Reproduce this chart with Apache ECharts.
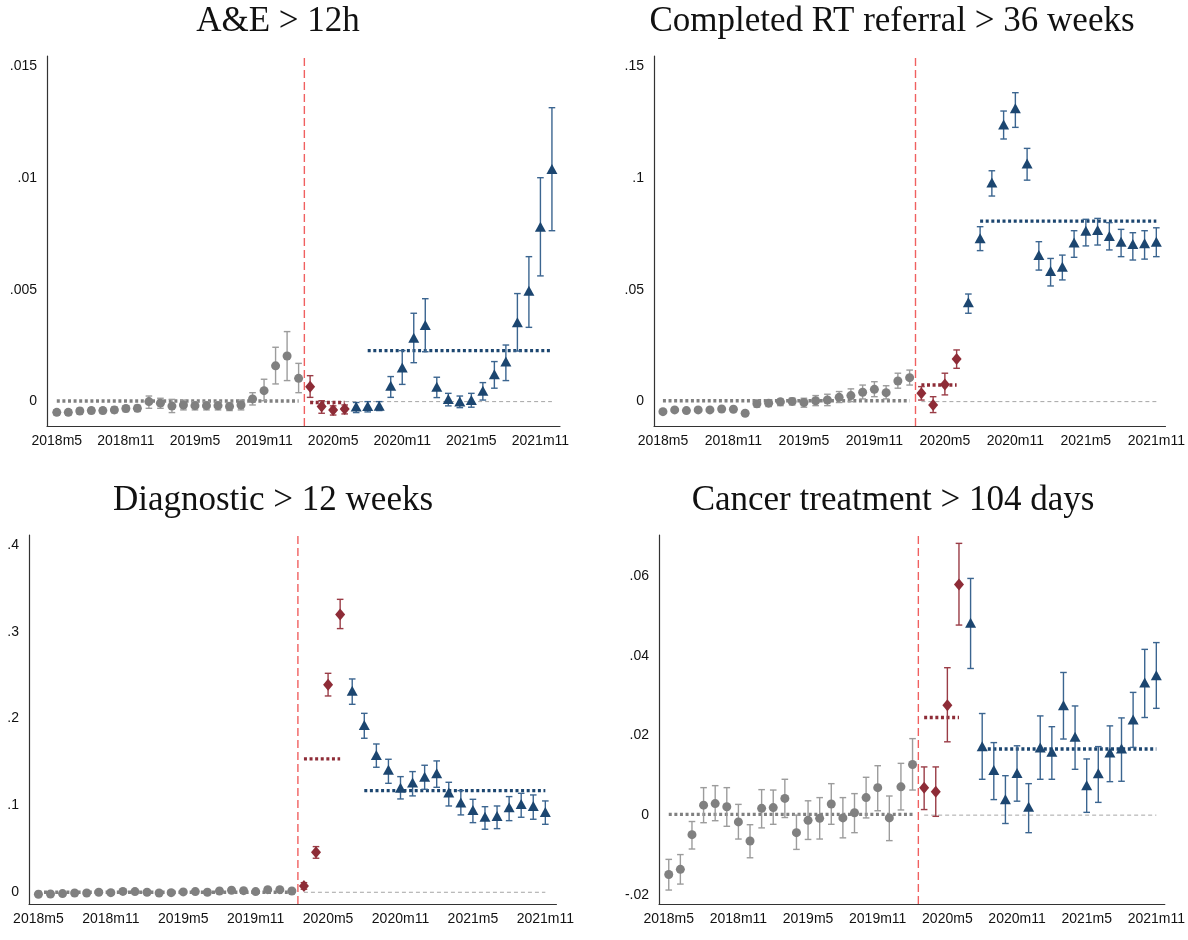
<!DOCTYPE html>
<html>
<head>
<meta charset="utf-8">
<script src="https://cdn.jsdelivr.net/npm/echarts@6/dist/echarts.min.js"></script>
<style>
html,body{margin:0;padding:0;background:#fff;width:1188px;height:940px;overflow:hidden;}
.p{position:absolute;overflow:hidden;}
</style>
</head>
<body>
<div id="p1" class="p" style="left:0;top:0;width:594px;height:479px;"></div>
<div id="p2" class="p" style="left:594px;top:0;width:594px;height:479px;"></div>
<div id="p3" class="p" style="left:0;top:479px;width:577px;height:461px;"></div>
<div id="p4" class="p" style="left:594px;top:479px;width:594px;height:461px;"></div>
<script>
// x tick labels (month index 0 = 2018m5)
const xTickIdx = [0, 6, 12, 18, 24, 30, 36, 42];
const xTickLabels = ['2018m5','2018m11','2019m5','2019m11','2020m5','2020m11','2021m5','2021m11'];
const preCount = 22;     // 2018m5 .. 2020m2 (grey)
const covidCount = 4;    // 2020m3 .. 2020m6 (red)
const breakAt = 21.5;    // vertical dashed line between 2020m2 and 2020m3
const postMeanStart = 27;

const titles = ['A&E > 12h', 'Completed RT referral > 36 weeks', 'Diagnostic > 12 weeks', 'Cancer treatment > 104 days'];

// Panel 1: A&E > 12h (2018m5 .. 2021m12)
const aeEst = [-0.00048,-0.00048,-0.00042,-0.0004,-0.0004,-0.00037,-0.00031,-0.0003,0.0,-0.00007,-0.0002,-0.00015,-0.00018,-0.00018,-0.00018,-0.00022,-0.00015,0.00012,0.00049,0.0016,0.00204,0.00104,
  0.00067,-0.00022,-0.00037,-0.00033,
  -0.00022,-0.0002,-0.00018,0.00071,0.00152,0.00286,0.00343,0.00067,0.00012,0.0,0.00007,0.00049,0.00122,0.00179,0.00355,0.00496,0.00782,0.0104];
const aeLo = [-0.0006,-0.0006,-0.00055,-0.00053,-0.00053,-0.0005,-0.00045,-0.00044,-0.0003,-0.0003,-0.00049,-0.00037,-0.00037,-0.00037,-0.00037,-0.0004,-0.00037,-0.00015,0.00004,0.00079,0.00094,0.0004,
  0.00019,-0.00052,-0.0006,-0.00055,
  -0.00049,-0.00046,-0.0004,0.00019,0.00077,0.00174,0.00223,0.00018,-0.00019,-0.00027,-0.00025,0.00007,0.0006,0.00094,0.00226,0.00332,0.00562,0.00764];
const aeHi = [-0.00036,-0.00036,-0.0003,-0.00028,-0.00028,-0.00024,-0.00018,-0.00016,0.00025,0.00015,0.0001,0.00007,0,0,0,-0.00004,0.00007,0.0004,0.001,0.00243,0.00313,0.00171,
  0.00116,0.00004,-0.00019,-0.00015,
  -0.00004,0,0,0.00112,0.00228,0.00395,0.0046,0.00109,0.00037,0.00025,0.00037,0.00085,0.00179,0.00253,0.00483,0.00648,0.01001,0.01314];
const aeMeans = [0.00003, -0.00004, 0.00228];
const aeTicks = [0, 0.005, 0.01, 0.015];

// Panel 2: Completed RT referral > 36 weeks (2018m5 .. 2021m11)
const rtEst = [-0.0045,-0.0037,-0.004,-0.0037,-0.0037,-0.0033,-0.0034,-0.0052,-0.001,-0.0007,-0.0001,0.0001,-0.0004,0.0004,0.0007,0.0019,0.0027,0.0042,0.0055,0.004,0.0092,0.0107,
  0.0037,-0.0015,0.0077,0.0191,
  0.0444,0.073,0.0979,0.1239,0.1311,0.1065,0.0655,0.0584,0.0603,0.0711,0.0764,0.0767,0.074,0.0715,0.0705,0.0708,0.0715];
const rtLo = [-0.0052,-0.0044,-0.0047,-0.0044,-0.0044,-0.004,-0.0041,-0.006,-0.0025,-0.0022,-0.0018,-0.0015,-0.0025,-0.0018,-0.0018,-0.0004,0,0.0012,0.0022,0.0012,0.006,0.0074,
  0.0007,-0.0049,0.003,0.0149,
  0.0395,0.0675,0.0919,0.1174,0.1226,0.099,0.0588,0.0517,0.0544,0.0645,0.0696,0.07,0.0678,0.0648,0.0633,0.0637,0.0648];
const rtHi = [-0.0038,-0.003,-0.0033,-0.003,-0.003,-0.0026,-0.0027,-0.0044,0.00045,0.0007,0.0012,0.0016,0.0015,0.0027,0.0033,0.0045,0.0057,0.0074,0.0089,0.0071,0.0127,0.0141,
  0.0067,0.0022,0.0127,0.0231,
  0.0481,0.0782,0.1032,0.1299,0.1381,0.1132,0.0715,0.064,0.0655,0.0764,0.0815,0.0819,0.08,0.077,0.0755,0.0764,0.0777];
const rtMeans = [0.0004, 0.0074, 0.0807];
const rtTicks = [0, 0.05, 0.1, 0.15];

// Panel 3: Diagnostic > 12 weeks
const dgEst = [-0.0023,-0.002,-0.0015,-0.0008,-0.0008,0,-0.0004,0.001,0.0008,0,-0.0008,-0.0004,0.0004,0.0008,0,0.0015,0.0023,0.0019,0.0008,0.003,0.003,0.0015,
  0.0073,0.046,0.239,0.32,
  0.232,0.1927,0.158,0.141,0.1205,0.1263,0.1332,0.137,0.1148,0.1033,0.0948,0.0871,0.0879,0.0979,0.1017,0.0994,0.0925];
const dgLo = [-0.0038,-0.0035,-0.003,-0.0023,-0.0023,-0.0015,-0.0019,-0.0005,-0.0007,-0.0015,-0.0023,-0.0019,-0.0011,-0.0007,-0.0015,0,0.0008,0.0004,-0.0007,0.0012,0.0012,0,
  0.0035,0.0392,0.2261,0.3037,
  0.2165,0.1774,0.144,0.1255,0.1075,0.111,0.1186,0.1209,0.0994,0.0891,0.0802,0.0726,0.0733,0.0825,0.0864,0.0841,0.0783];
const dgHi = [-0.0008,-0.0005,0,0.0007,0.0007,0.0015,0.0011,0.0025,0.0023,0.0015,0.0007,0.0011,0.0019,0.0023,0.0015,0.003,0.0038,0.0034,0.0023,0.0048,0.0048,0.003,
  0.0111,0.0526,0.2522,0.3374,
  0.2457,0.2061,0.1708,0.1532,0.1332,0.139,0.1463,0.1513,0.1267,0.1171,0.1071,0.0986,0.0994,0.1102,0.114,0.1121,0.1052];
const dgMeans = [0.0, 0.1536, 0.1171];
const dgTicks = [0, 0.1, 0.2, 0.3, 0.4];

// Panel 4: Cancer treatment > 104 days
const caEst = [-0.0149,-0.0136,-0.0049,0.0025,0.0029,0.0021,-0.0017,-0.0065,0.0017,0.0019,0.0042,-0.0044,-0.0013,-0.0008,0.0028,-0.0007,0.0006,0.0044,0.0069,-0.0007,0.0071,0.0127,
  0.0069,0.0059,0.0276,0.0579,
  0.0483,0.0173,0.0113,0.004,0.0106,0.0021,0.017,0.0159,0.0276,0.0197,0.0075,0.0105,0.0157,0.0167,0.024,0.0333,0.0351];
const caLo = [-0.0188,-0.0173,-0.0085,-0.0019,-0.0014,-0.0028,-0.006,-0.0107,-0.0032,-0.0023,-0.0006,-0.0086,-0.0061,-0.006,-0.0023,-0.0057,-0.0044,-0.0007,0.0011,-0.0064,0.0013,0.0063,
  0.0014,-0.0003,0.0184,0.0477,
  0.0368,0.009,0.0039,-0.0021,0.0035,-0.0044,0.009,0.009,0.0191,0.0115,0.0007,0.0032,0.0084,0.0085,0.017,0.0245,0.0268];
const caHi = [-0.0111,-0.0099,-0.0016,0.0069,0.0074,0.0069,0.0027,-0.0024,0.0064,0.0063,0.009,0,0.0036,0.0044,0.0079,0.0044,0.0054,0.0095,0.0124,0.0048,0.013,0.0192,
  0.0121,0.0121,0.037,0.0682,
  0.0594,0.0255,0.0182,0.0099,0.0174,0.0079,0.0249,0.0222,0.0358,0.0274,0.0141,0.0172,0.0224,0.0244,0.0308,0.0416,0.0433];
const caMeans = [0.0002, 0.0245, 0.0166];
const caTicks = [-0.02, 0, 0.02, 0.04, 0.06];

const GREY = '#808080', GREY_BAR = '#9c9c9c';
const RED = '#8e2c37', RED_BAR = '#9a3c46';
const BLUE = '#1c4670', BLUE_BAR = '#3b6590';
const VLINE = '#f06060';

function fmtY(v){ if (Math.abs(v) < 1e-12) return '0'; return String(+v.toFixed(4)).replace('0.', '.'); }
function fmtX(v){ const i = xTickIdx.indexOf(Math.round(v)); return i >= 0 ? xTickLabels[i] : ''; }

function errBar(color){
  return function(params, api){
    const x = api.value(0), lo = api.value(1), hi = api.value(2);
    const a = api.coord([x, lo]), b = api.coord([x, hi]);
    const w = 3.3;
    const st = {stroke: color, lineWidth: 1.4};
    return {type:'group', children:[
      {type:'line', shape:{x1:a[0],y1:a[1],x2:b[0],y2:b[1]}, style:st},
      {type:'line', shape:{x1:a[0]-w,y1:a[1],x2:a[0]+w,y2:a[1]}, style:st},
      {type:'line', shape:{x1:b[0]-w,y1:b[1],x2:b[0]+w,y2:b[1]}, style:st}
    ]};
  };
}

function makePanel(elId, cfg){
  const chart = echarts.init(document.getElementById(elId), null, {renderer:'canvas'});
  const n = cfg.est.length;
  const groups = [
    {from:0, to:preCount, color:GREY, bar:GREY_BAR, sym:'circle', size:9},
    {from:preCount, to:preCount+covidCount, color:RED, bar:RED_BAR, sym:'diamond', size:[10,12]},
    {from:preCount+covidCount, to:n, color:BLUE, bar:BLUE_BAR, sym:'triangle', size:[11,10]}
  ];
  const series = [];
  // zero reference line after the break
  series.push({type:'line', data:[[preCount,0],[n-1,0]], showSymbol:false, silent:true, z:1,
    lineStyle:{color:'#a6a6a6', width:1, type:[4,3]}});
  // vertical break line
  series.push({type:'line', data:[[breakAt,cfg.yMin],[breakAt,cfg.yMax]], showSymbol:false, silent:true, z:1,
    lineStyle:{color:VLINE, width:1.4, type:[8,4]}});
  groups.forEach((g, gi) => {
    const pts = [], bars = [];
    for (let i = g.from; i < g.to; i++){ pts.push([i, cfg.est[i]]); bars.push([i, cfg.lo[i], cfg.hi[i]]); }
    const mFrom = gi === 2 ? postMeanStart : g.from;
    const mTo = gi === 2 ? n-1 : g.to-1;
    series.push({type:'line', data:[[mFrom, cfg.means[gi]],[mTo, cfg.means[gi]]], showSymbol:false, silent:true, z:2,
      lineStyle:{color:g.color, width:3.4, type:[3,2.6]}});
    series.push({type:'custom', renderItem:errBar(g.bar), data:bars, z:3, silent:true,
      encode:{x:0, y:[1,2]}});
    series.push({type:'scatter', data:pts, symbol:g.sym, symbolSize:g.size, z:4, silent:true,
      itemStyle:{color:g.color, opacity:1}});
  });
  chart.setOption({
    animation:false,
    graphic:[{type:'text', x:cfg.titleX, y:cfg.titleY,
      style:{text:cfg.title, fill:'#111', font:'35px "Liberation Serif", serif', align:'center', verticalAlign:'middle'}}],
    grid:{left:cfg.grid[0], top:cfg.grid[1], width:cfg.grid[2], height:cfg.grid[3], containLabel:false},
    xAxis:{type:'value', min:cfg.xMin, max:cfg.xMax, splitLine:{show:false},
      axisLine:{onZero:false, lineStyle:{color:'#333', width:1.2}}, axisTick:{show:false},
      axisLabel:{customValues:xTickIdx, formatter:fmtX, color:'#111', fontSize:14, fontFamily:'"Liberation Sans", Arial, sans-serif', margin:8, showMinLabel:true, showMaxLabel:true}},
    yAxis:{type:'value', min:cfg.yMin, max:cfg.yMax, splitLine:{show:false},
      axisLine:{show:true, onZero:false, lineStyle:{color:'#333', width:1.2}}, axisTick:{show:false},
      axisLabel:{customValues:cfg.ticks, formatter:fmtY, color:'#111', fontSize:14, fontFamily:'"Liberation Sans", Arial, sans-serif', margin:10}},
    series:series
  });
}

makePanel('p1', {title:titles[0], titleX:278, titleY:22, grid:[47,56,513,370],
  xMin:-0.85, xMax:43.7, yMin:-0.00109, yMax:0.01545, ticks:aeTicks,
  est:aeEst, lo:aeLo, hi:aeHi, means:aeMeans});
makePanel('p2', {title:titles[1], titleX:298, titleY:22, grid:[60,56,526,370],
  xMin:-0.76, xMax:42.78, yMin:-0.0109, yMax:0.1545, ticks:rtTicks,
  est:rtEst, lo:rtLo, hi:rtHi, means:rtMeans});
makePanel('p3', {title:titles[2], titleX:273, titleY:22, grid:[29,56,531,369],
  xMin:-0.78, xMax:42.92, yMin:-0.0135, yMax:0.4115, ticks:dgTicks,
  est:dgEst, lo:dgLo, hi:dgHi, means:dgMeans});
makePanel('p4', {title:titles[3], titleX:299, titleY:22, grid:[65,56,521,369],
  xMin:-0.84, xMax:42.73, yMin:-0.0223, yMax:0.0703, ticks:caTicks,
  est:caEst, lo:caLo, hi:caHi, means:caMeans});
</script>
</body>
</html>
